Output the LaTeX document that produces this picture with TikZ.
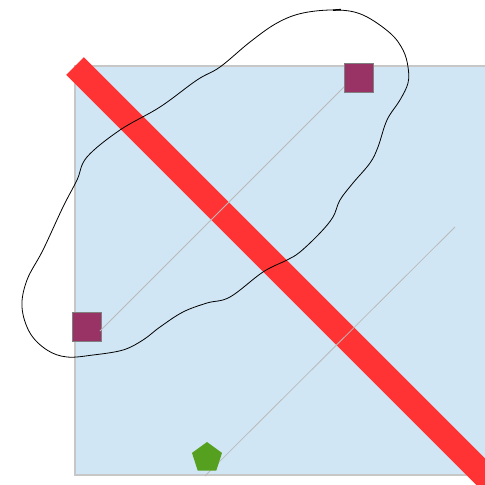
\documentclass[tikz,border=0pt]{standalone}
\begin{document}
\begin{tikzpicture}[x=1pt,y=-1pt,
  panel/.style={draw=black!22,line width=1.2pt,fill={rgb,255:red,208;green,230;blue,244}},
  slash/.style={draw={rgb,255:red,255;green,51;blue,51},line width=25pt},
  guide/.style={draw=black!27,line width=0.8pt},
  sq/.style={draw=black!50,line width=1.2pt,fill={rgb,255:red,153;green,51;blue,102},minimum size=29pt,inner sep=0pt,shape=rectangle},
  penta/.style={fill={rgb,255:red,85;green,160;blue,30}},
  loop/.style={draw=black,line width=0.8pt}]
\useasboundingbox (0,0) rectangle (485,485);
\clip (0,0) rectangle (485,485);
\path[panel] (75,66) rectangle (495,475);
\coordinate (r1) at (75,66);
\coordinate (r2) at (495,486);
\draw[slash] (r1) -- (r2);
\node[sq] (sqb) at (87,327) {};
\coordinate (g1a) at (100,331);
\coordinate (g1b) at (359,72);
\draw[guide] (g1a) -- (g1b);
\node[sq] (sqt) at (359,78) {};
\coordinate (g2a) at (205,476);
\coordinate (g2b) at (455,227);
\draw[guide] (g2a) -- (g2b);
\fill[penta] (207,442) -- (222,452.9) -- (216.3,470.6) -- (197.7,470.6) -- (192,452.9) -- cycle;
\draw[loop] plot[smooth cycle,tension=0.6] coordinates {
(337,10) (363,15) (390,33) (403,50) (408,67) (408,83) (400,100) (387,120) (378,147) (370,163) (353,183) (340,200) (333,217) (320,233) (300,252) (287,260) (263,272) (230,297) (207,303) (183,312) (160,327) (143,340) (123,350) (93,355) (67,357) (47,350) (30,333) (22,307) (27,280) (43,250) (63,207) (77,180) (87,157) (120,130) (160,107) (197,80) (220,67) (250,42) (277,23) (303,13)};
\draw[line width=1.5pt] (333,10.2) -- (341,9.6);
\end{tikzpicture}
\end{document}
